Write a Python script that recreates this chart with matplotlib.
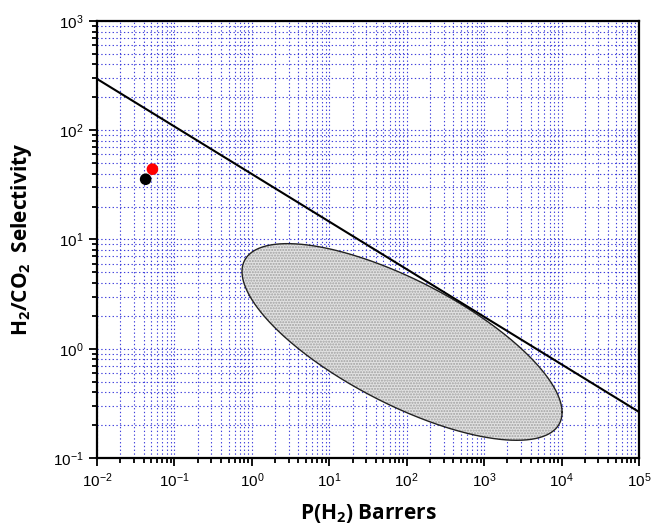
"""
H2/CO2 selectivity vs H2 permeability (Robeson-type plot)
"""

import numpy as np
import matplotlib
matplotlib.use("Agg")
import matplotlib.pyplot as plt
from matplotlib.ticker import LogLocator, NullFormatter

# upper bound line end points (Barrer, selectivity)
bound_perm = [1e-2, 1e5]
bound_sel = [295, 0.264]

# measured membranes
pts_perm = [0.0425, 0.052]
pts_sel = [35.6, 44.0]
pts_color = ["black", "red"]

# polymer region (ellipse in log-log space)
ell_center = (1.94, 0.062)      # log10 P, log10 alpha
ell_half_width = 2.067          # decades in x
ell_half_height = 0.90          # decades in y
ell_phase = np.arccos(-0.716)

plt.rcParams["font.family"] = ["Liberation Sans", "DejaVu Sans"]
plt.rcParams["mathtext.fontset"] = "custom"
plt.rcParams["mathtext.rm"] = "Liberation Sans"
plt.rcParams["mathtext.bf"] = "Open Sans:bold"

fig = plt.figure(figsize=(6.54, 5.31), dpi=100)
ax = fig.add_axes([0.1483, 0.1375, 0.8287, 0.823])

ax.set_xscale("log")
ax.set_yscale("log")
ax.set_xlim(1e-2, 1e5)
ax.set_ylim(1e-1, 1e3)

# grid
for axis in (ax.xaxis, ax.yaxis):
    axis.set_major_locator(LogLocator(base=10, numticks=20))
    axis.set_minor_locator(LogLocator(base=10, subs=np.arange(2, 10), numticks=20))
    axis.set_minor_formatter(NullFormatter())
ax.grid(True, which="both", color="#2a2ad8", linestyle=(0, (1.2, 2.2)),
        linewidth=0.8, alpha=0.9)
ax.set_axisbelow(True)

# ellipse
t = np.linspace(0, 2 * np.pi, 400)
ex = 10 ** (ell_center[0] + ell_half_width * np.cos(t))
ey = 10 ** (ell_center[1] + ell_half_height * np.cos(t + ell_phase))
ax.fill(ex, ey, facecolor="#e2e2e2", edgecolor="#a0a0a0", hatch="......",
        linewidth=0, zorder=2)
ax.plot(ex, ey, color="#222222", linewidth=1.0, zorder=3)

# upper bound
ax.plot(bound_perm, bound_sel, color="black", linewidth=1.5, zorder=4)

# points
ax.scatter(pts_perm, pts_sel, c=pts_color, s=70, zorder=5, linewidths=0)

for spine in ax.spines.values():
    spine.set_linewidth(1.6)

ax.tick_params(which="both", direction="out", top=False, right=False,
               width=1.3, labelsize=11)
ax.tick_params(which="major", length=6)
ax.tick_params(which="minor", length=3.5)

ax.set_xlabel(r"P(H$\mathbf{_2}$) Barrers", fontsize=15, fontweight="bold",
              family=["Open Sans", "DejaVu Sans"], labelpad=9)
ax.set_ylabel(r"H$\mathbf{_2}$/CO$\mathbf{_2}$  Selectivity", fontsize=15,
              fontweight="bold", family=["Open Sans", "DejaVu Sans"], labelpad=14)

plt.savefig("out.png", dpi=100)
